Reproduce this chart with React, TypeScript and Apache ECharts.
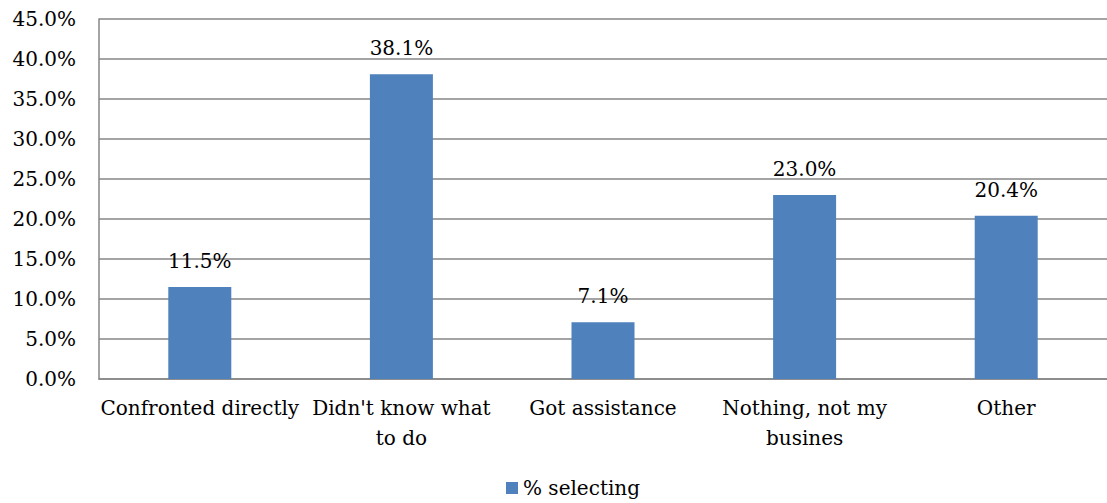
import React, { useEffect, useRef } from "react";
import * as echarts from "echarts";

const categories = [
  "Confronted directly",
  "Didn't know what\nto do",
  "Got assistance",
  "Nothing, not my\nbusines",
  "Other",
];
const values = [11.5, 38.1, 7.1, 23.0, 20.4];
const seriesName = "% selecting";
const FONT = "'DejaVu Serif', 'Liberation Serif', serif";

export default function App() {
  const ref = useRef<HTMLDivElement>(null);
  useEffect(() => {
    if (!ref.current) return;
    const chart = echarts.init(ref.current, undefined, { renderer: "svg" });
    chart.setOption({
      animation: false,
      backgroundColor: "#ffffff",
      textStyle: { fontFamily: FONT },
      legend: {
        top: 478,
        left: 506,
        padding: 0,
        itemWidth: 12,
        itemHeight: 12,
        itemGap: 6,
        icon: "rect",
        textStyle: { fontFamily: FONT, fontSize: 20, color: "#000" },
        data: [seriesName],
      },
      grid: { left: 99, width: 1017, top: 19, height: 360, containLabel: false },
      xAxis: {
        type: "category",
        data: categories,
        axisLine: { lineStyle: { color: "#868686", width: 1.5 } },
        axisTick: { show: false },
        axisLabel: {
          fontFamily: FONT,
          fontSize: 20,
          color: "#000",
          margin: 14,
          lineHeight: 30,
          interval: 0,
        },
      },
      yAxis: {
        type: "value",
        min: 0,
        max: 45,
        interval: 5,
        axisLine: { show: true, lineStyle: { color: "#868686", width: 1.5 } },
        axisTick: { show: false },
        splitLine: { lineStyle: { color: "#868686", width: 1.5 } },
        axisLabel: {
          fontFamily: FONT,
          fontSize: 20,
          color: "#000",
          margin: 23,
          formatter: (v: number) => v.toFixed(1) + "%",
        },
      },
      series: [
        {
          name: seriesName,
          type: "bar",
          data: values,
          barWidth: 63,
          itemStyle: { color: "#4F81BD" },
          label: {
            show: true,
            position: "top",
            distance: 16,
            fontFamily: FONT,
            fontSize: 20,
            color: "#000",
            formatter: (p: any) => p.value.toFixed(1) + "%",
          },
        },
      ],
    });
    return () => chart.dispose();
  }, []);
  return (
    <div
      ref={ref}
      style={{ position: "fixed", left: 0, top: 0, width: 1107, height: 503 }}
    />
  );
}
